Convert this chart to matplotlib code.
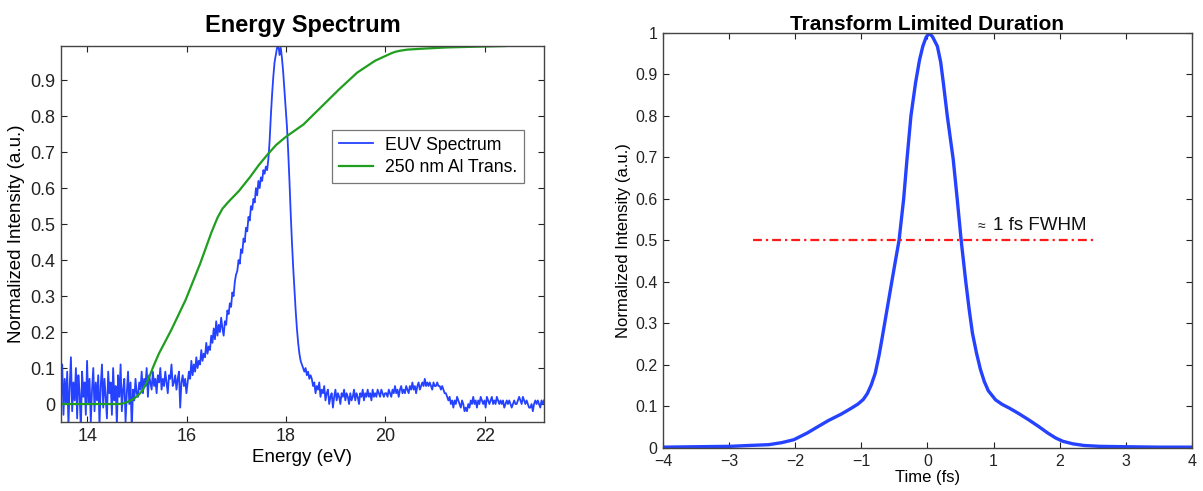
import matplotlib

matplotlib.use("Agg")

import matplotlib.pyplot as plt
import numpy as np
from matplotlib.ticker import FuncFormatter

plt.rcParams["font.family"] = ["Liberation Sans", "DejaVu Sans"]

# --- EUV spectrum, sampled on a uniform energy grid -------------------------
euv_e_start, euv_e_stop = 13.47, 23.19
euv_intensity = [
    # 13.5 - 15.0 eV : noise floor
    0.02, 0.11, -0.03, 0.07, 0.00, 0.09, -0.06, 0.05, 0.13, -0.02,
    0.06, 0.01, 0.10, -0.04, 0.08, 0.03, -0.07, 0.09, 0.02, 0.06,
    -0.03, 0.12, 0.00, 0.07, -0.05, 0.04, 0.10, -0.02, 0.06, 0.01,
    0.08, -0.06, 0.05, 0.11, -0.01, 0.07, 0.02, -0.04, 0.09, 0.03,
    0.06, -0.03, 0.10, 0.01, 0.05, -0.06, 0.08, 0.02, 0.11, -0.02,
    0.04, 0.07, -0.05, 0.03, 0.09, 0.00, 0.06, -0.07, 0.04, 0.01,
    0.07, 0.03,
    # 15.0 - 16.0 eV
    0.02, 0.06, 0.04, 0.09, 0.03, 0.07, 0.05, 0.10, 0.02, 0.08,
    0.06, 0.04, 0.09, 0.05, 0.07, 0.03, 0.08, 0.06, 0.10, 0.04,
    0.07, 0.05, 0.09, 0.06, 0.03, 0.08, 0.07, 0.11, 0.05, 0.06,
    0.08, 0.04, 0.07, 0.09, -0.01, 0.06, 0.08, 0.05, 0.07, 0.03,
    # 16.0 - 16.5 eV
    0.06, 0.09, 0.07, 0.12, 0.08, 0.11, 0.09, 0.13, 0.10, 0.12,
    0.11, 0.15, 0.12, 0.14, 0.13, 0.17, 0.14, 0.16, 0.15, 0.19,
    # 16.5 - 17.0 eV
    0.17, 0.21, 0.18, 0.23, 0.19, 0.22, 0.20, 0.24, 0.21, 0.19,
    0.23, 0.22, 0.26, 0.25, 0.28, 0.27, 0.31, 0.30, 0.34, 0.36,
    # 17.0 - 17.5 eV
    0.37, 0.40, 0.39, 0.43, 0.42, 0.46, 0.45, 0.49, 0.48, 0.52,
    0.51, 0.55, 0.54, 0.57, 0.56, 0.60, 0.58, 0.62, 0.60, 0.63,
    # 17.5 - 17.8 eV
    0.62, 0.65, 0.64, 0.66, 0.65, 0.68, 0.73, 0.80, 0.86, 0.91,
    0.95, 0.97,
    # 17.8 - 18.5 eV : peak and falling edge
    0.99, 1.00, 0.97, 0.99, 0.96, 0.92, 0.87, 0.82, 0.77, 0.70,
    0.62, 0.53, 0.45, 0.38, 0.32, 0.26, 0.21, 0.17, 0.14, 0.12,
    0.11, 0.10, 0.09, 0.10, 0.08, 0.09, 0.07, 0.08,
    # 18.5 - 20.0 eV
    0.07, 0.05, 0.06, 0.03, 0.05, 0.04, 0.06, 0.02, 0.04, 0.03,
    0.05, 0.01, 0.03, 0.04, 0.00, 0.02, 0.03, -0.01, 0.02, 0.04,
    0.01, 0.03, 0.02, 0.00, 0.03, 0.02, 0.04, 0.01, 0.03, 0.02,
    0.00, 0.03, 0.01, 0.02, 0.04, 0.01, 0.03, 0.02, 0.00, 0.03,
    0.02, 0.04, 0.01, 0.03, 0.02, 0.04, 0.02, 0.03, 0.01, 0.04,
    0.02, 0.03, 0.02, 0.04, 0.03, 0.02, 0.04, 0.03, 0.02, 0.03,
    # 20.0 - 21.2 eV : small side bump
    0.03, 0.02, 0.04, 0.03, 0.02, 0.04, 0.03, 0.05, 0.03, 0.04,
    0.02, 0.04, 0.05, 0.03, 0.04, 0.03, 0.05, 0.04, 0.03, 0.05,
    0.04, 0.06, 0.04, 0.05, 0.03, 0.05, 0.06, 0.04, 0.05, 0.06,
    0.05, 0.07, 0.05, 0.06, 0.05, 0.06, 0.05, 0.04, 0.06, 0.05,
    0.05, 0.06, 0.05, 0.05, 0.04, 0.05, 0.04, 0.03,
    # 21.2 - 23.2 eV
    0.03, 0.02, 0.01, 0.02, 0.00, 0.01, -0.01, 0.01, 0.00, 0.02,
    0.01, 0.00, -0.01, 0.01, 0.00, -0.02, -0.01, -0.02, 0.00, -0.01,
    0.01, 0.00, 0.02, 0.00, 0.01, -0.01, 0.01, 0.00, 0.02, 0.01,
    0.00, 0.01, -0.01, 0.02, 0.01, 0.00, 0.01, 0.02, 0.00, 0.01,
    0.00, 0.02, 0.01, 0.00, 0.01, 0.00, 0.01, -0.01, 0.00, 0.01,
    0.00, 0.01, 0.00, -0.01, 0.00, 0.01, 0.00, 0.00, 0.01, 0.02,
    0.01, 0.00, 0.02, 0.01, 0.00, 0.01, 0.00, -0.01, -0.01, 0.00,
    -0.02, 0.00, 0.01, 0.00, 0.01, 0.00, -0.01, 0.01, 0.00, 0.01,
]
euv_energy = np.linspace(euv_e_start, euv_e_stop, len(euv_intensity))

# --- 250 nm Al filter transmission ------------------------------------------
al_energy = [13.47, 14.61, 14.70, 14.78, 14.86, 14.94, 15.02, 15.10, 15.18,
             15.26, 15.34, 15.44, 15.69, 15.98, 16.27, 16.50, 16.62, 16.72,
             16.84, 17.05, 17.27, 17.45, 17.63, 17.80, 17.99, 18.35, 18.71,
             19.07, 19.43, 19.79, 20.01, 20.12, 20.20, 20.30, 20.44, 20.8,
             21.23, 21.8, 22.42]
al_trans = [0.0, 0.0, 0.001, 0.004, 0.009, 0.015, 0.024, 0.036, 0.055,
            0.08, 0.108, 0.14, 0.206, 0.29, 0.39, 0.478, 0.518, 0.543,
            0.562, 0.592, 0.63, 0.664, 0.694, 0.72, 0.742, 0.777, 0.826,
            0.875, 0.921, 0.954, 0.968, 0.975, 0.979, 0.982, 0.985, 0.988,
            0.991, 0.993, 0.995]

# --- transform-limited pulse -------------------------------------------------
pulse_time = [-4.0, -3.5, -2.98, -2.7, -2.4, -2.2, -2.02, -1.82, -1.65,
              -1.5, -1.3, -1.15, -1.05, -0.97, -0.91, -0.85, -0.79, -0.73,
              -0.68, -0.61, -0.54, -0.48, -0.43, -0.36, -0.31, -0.25, -0.18,
              -0.12, -0.07, -0.02, 0.03, 0.08, 0.15, 0.20, 0.24, 0.30, 0.39,
              0.45, 0.51, 0.58, 0.63, 0.68, 0.74, 0.80, 0.86, 0.92, 1.03,
              1.13, 1.24, 1.38, 1.53, 1.68, 1.82, 1.94, 2.05, 2.2, 2.37,
              2.6, 3.0, 3.5, 4.0]
pulse_intensity = [0.002, 0.003, 0.004, 0.006, 0.008, 0.013, 0.02, 0.036,
                   0.052, 0.066, 0.082, 0.096, 0.106, 0.117, 0.131, 0.152,
                   0.18, 0.225, 0.27, 0.335, 0.40, 0.455, 0.50, 0.60, 0.695,
                   0.80, 0.88, 0.935, 0.968, 0.99, 1.0, 0.99, 0.968, 0.93,
                   0.88, 0.80, 0.695, 0.60, 0.50, 0.40, 0.335, 0.277, 0.23,
                   0.19, 0.16, 0.138, 0.116, 0.105, 0.096, 0.083, 0.068,
                   0.052, 0.036, 0.024, 0.016, 0.01, 0.006, 0.004, 0.003,
                   0.002, 0.002]
fwhm_span = [-2.64, 2.56]
fwhm_level = 0.5


def matlab_axes(ax, size):
    ax.tick_params(direction="in", top=True, right=True, length=4,
                   width=0.8, labelsize=size, colors="#222222", pad=4)
    for spine in ax.spines.values():
        spine.set_color("#444444")
        spine.set_linewidth(1.0)
    ax.xaxis.set_major_formatter(FuncFormatter(lambda v, _: f"{v:g}".replace("-", "\u2212")))
    ax.yaxis.set_major_formatter(FuncFormatter(lambda v, _: f"{v:g}"))


fig = plt.figure(figsize=(12.03, 4.91), dpi=100)

# Energy spectrum panel
ax1 = fig.add_axes([0.0507, 0.1405, 0.4015, 0.7658])
ax1.plot(euv_energy, euv_intensity, color="#2442ff", linewidth=1.3,
         label="EUV Spectrum")
ax1.plot(al_energy, al_trans, color="#1f9e1f", linewidth=1.6,
         solid_joinstyle="round", label="250 nm Al Trans.")
ax1.set_xlim(euv_e_start, euv_e_stop)
ax1.set_ylim(-0.05, 0.995)
ax1.set_xticks([14, 16, 18, 20, 22])
ax1.set_yticks(np.arange(0, 10) / 10)
matlab_axes(ax1, 13)
ax1.set_xlabel("Energy (eV)", fontsize=13.5, labelpad=3)
ax1.set_ylabel("Normalized Intensity (a.u.)", fontsize=13.5, labelpad=4)
ax1.set_title("Energy Spectrum", fontsize=17, fontweight="bold", pad=10)
leg = ax1.legend(loc="upper left", bbox_to_anchor=(0.561, 0.777),
                 borderaxespad=0, fontsize=12.7, frameon=True, fancybox=False,
                 handlelength=1.95, borderpad=0.38, labelspacing=0.3,
                 handletextpad=0.7)
leg.get_frame().set_edgecolor("#555555")
leg.get_frame().set_linewidth(0.9)

# Pulse duration panel
ax2 = fig.add_axes([0.5511, 0.0876, 0.4397, 0.8452])
ax2.plot(pulse_time, pulse_intensity, color="#2442ff", linewidth=2.4,
         solid_joinstyle="round")
ax2.plot(fwhm_span, [fwhm_level, fwhm_level], color="#ff1a1a",
         linewidth=1.6, linestyle=(0, (4, 1.8, 1, 1.8)))
ax2.text(0.76, 0.535, "\u2248", fontsize=10, va="center", ha="left",
         color="#111111")
ax2.text(0.99, 0.537, "1 fs FWHM", fontsize=13.5, va="center", ha="left",
         color="#111111")
ax2.set_xlim(-4, 4)
ax2.set_ylim(0, 1)
ax2.set_xticks(np.arange(-4, 5))
ax2.set_yticks(np.arange(0, 11) / 10)
matlab_axes(ax2, 11.5)
ax2.set_xlabel("Time (fs)", fontsize=12, labelpad=1)
ax2.set_ylabel("Normalized Intensity (a.u.)", fontsize=12, labelpad=3)
ax2.set_title("Transform Limited Duration", fontsize=15, fontweight="bold",
              pad=2)

fig.savefig("out.png", dpi=100)
plt.close(fig)
